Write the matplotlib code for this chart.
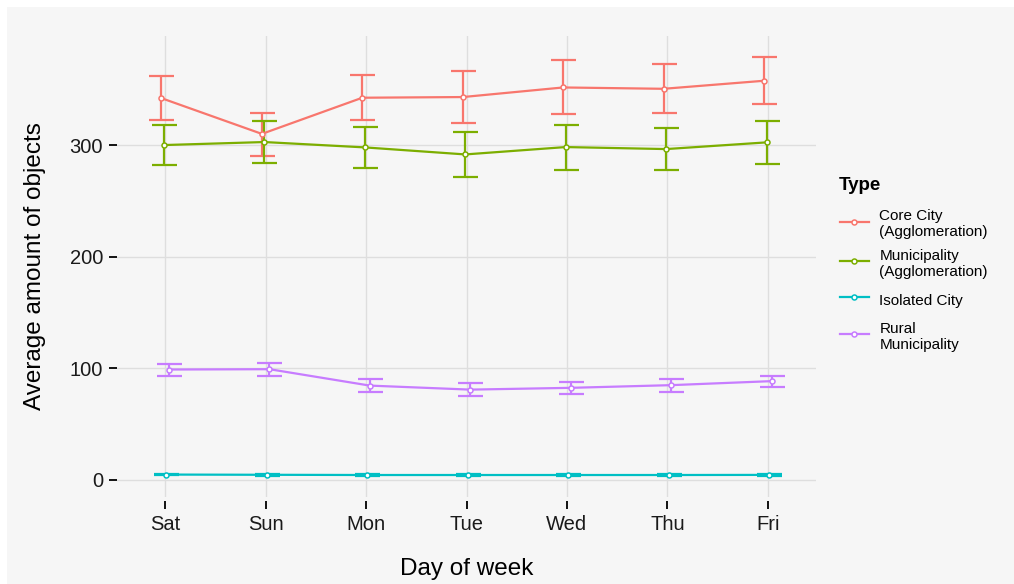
import matplotlib
matplotlib.use("Agg")
import matplotlib.pyplot as plt
from matplotlib.lines import Line2D
from matplotlib.patches import Rectangle
import numpy as np

# ---- data ----
days = ["Sat", "Sun", "Mon", "Tue", "Wed", "Thu", "Fri"]
types = ["Core City\n(Agglomeration)", "Municipality\n(Agglomeration)",
         "Isolated City", "Rural\nMunicipality"]

core_mean = [342.0, 310.0, 342.4, 343.0, 351.6, 350.4, 357.6]
core_low = [322.7, 290.4, 322.7, 319.7, 327.8, 329.0, 337.0]
core_high = [362.1, 329.0, 362.4, 366.0, 375.8, 372.6, 378.9]

muni_mean = [300.0, 302.7, 297.9, 291.6, 298.2, 296.4, 302.4]
muni_low = [281.7, 284.1, 279.6, 271.6, 278.1, 277.5, 283.2]
muni_high = [318.2, 321.5, 316.4, 311.9, 318.2, 314.9, 321.5]

iso_mean = [4.8, 4.6, 4.4, 4.4, 4.4, 4.4, 4.5]
iso_low = [4.0, 3.8, 3.6, 3.6, 3.6, 3.6, 3.7]
iso_high = [5.6, 5.4, 5.2, 5.2, 5.2, 5.2, 5.3]

rural_mean = [98.9, 99.2, 84.5, 80.9, 82.5, 84.9, 88.5]
rural_low = [93.5, 93.5, 78.9, 75.3, 77.1, 79.2, 83.4]
rural_high = [104.0, 104.6, 90.2, 86.6, 87.8, 90.5, 93.5]

y_ticks = [0, 100, 200, 300]

series = [
    (core_mean, core_low, core_high),
    (muni_mean, muni_low, muni_high),
    (iso_mean, iso_low, iso_high),
    (rural_mean, rural_low, rural_high),
]
colors = ["#F8766D", "#7CAE00", "#00BFC4", "#C77CFF"]
dodge = [-0.0375, -0.0125, 0.0125, 0.0375]

plt.rcParams.update({
    "font.family": ["Liberation Sans", "DejaVu Sans"],
})

BG = "#F6F6F6"
fig = plt.figure(figsize=(10.14, 5.84), dpi=100, facecolor="white")
fig.patches.append(Rectangle((7 / 1014, 0), 1, 1 - 7 / 584, transform=fig.transFigure,
                             facecolor=BG, edgecolor="none", zorder=-10))
ax = fig.add_axes([117 / 1014, 87 / 584, 699 / 1014, 461 / 584])
ax.set_facecolor(BG)

x = np.arange(len(days))
for (mean, low, high), color, off in zip(series, colors, dodge):
    mean = np.array(mean)
    yerr = [mean - np.array(low), np.array(high) - mean]
    ax.errorbar(x + off, mean, yerr=yerr, fmt="none", ecolor=color,
                elinewidth=1.6, capsize=9, capthick=1.6, zorder=3)
    ax.plot(x + off, mean, color=color, lw=1.6, marker="o", ms=3.6,
            mfc="white", mec=color, mew=1.1, zorder=4)

ax.set_xlim(-0.48, 6.48)
ax.set_ylim(-15.3, 397.7)
ax.set_xticks(x)
ax.set_xticklabels(days)
ax.set_yticks(y_ticks)

for s in ax.spines.values():
    s.set_visible(False)
ax.spines["bottom"].set_position(("outward", 3))
ax.grid(True, color="#DEDEDE", lw=1.0)
ax.set_axisbelow(True)
ax.tick_params(axis="both", direction="out", length=6, width=1.4, color="#111111",
               labelsize=14.5, labelcolor="#1A1A1A")
ax.tick_params(axis="x", pad=4)
ax.tick_params(axis="y", pad=4)

ax.set_xlabel("Day of week", fontsize=17.5, labelpad=17)
ax.set_ylabel("Average amount of objects", fontsize=17.5, labelpad=17)

# legend (title drawn separately to get the ggplot-like gap)
fig.text(839 / 1014, 1 - 185 / 584, "Type", fontsize=13.5, fontweight="bold",
         ha="left", va="center")
handles = [Line2D([0], [0], color=c, lw=1.6, marker="o", ms=3.6, mfc="white",
                  mec=c, mew=1.1) for c in colors]
leg = fig.legend(handles, types, loc="upper left", bbox_to_anchor=(826 / 1014, 1 - 195.5 / 584),
                 frameon=False, fontsize=11,
                 handlelength=1.9, handletextpad=0.7,
                 handleheight=2.0, labelspacing=0.62)

fig.savefig("out.png", dpi=100, facecolor="white")
